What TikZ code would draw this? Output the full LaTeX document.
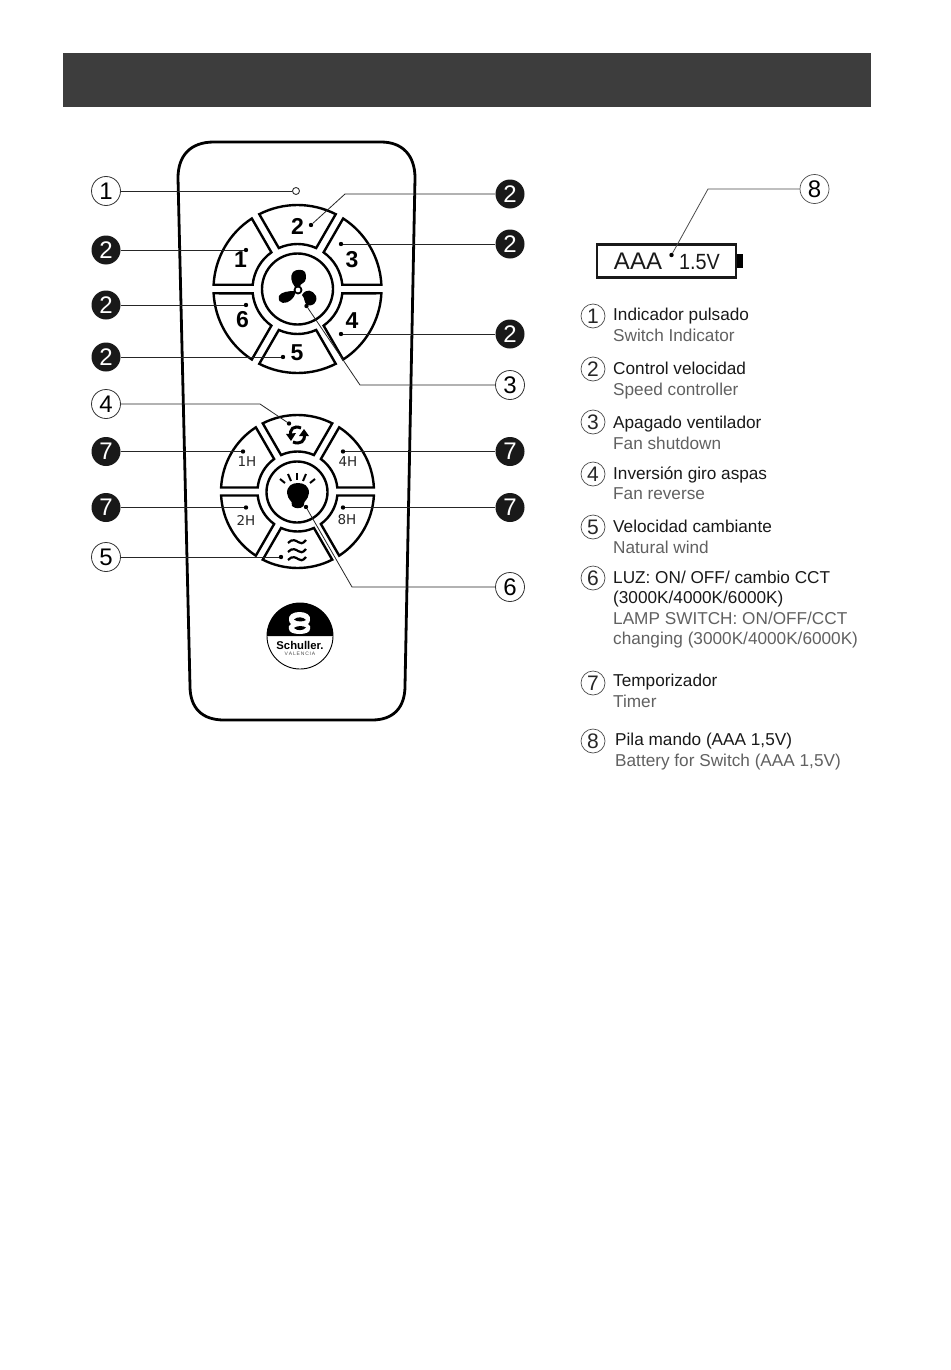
\documentclass[tikz,border=0pt]{standalone}
\usepackage{fontspec}
\setmainfont{Liberation Sans}
\newfontfamily\hfont{DejaVu Sans}
\tikzset{
 x=1pt,y=-1pt,
 seg/.style={draw=black,line width=2.4pt,line join=miter,fill=white},
 wire/.style={draw=black!85,line width=0.8pt},
 dotn/.style={circle,fill=black,inner sep=0pt,minimum size=4.4pt},
 callw/.style={circle,draw=black!80,line width=0.8pt,fill=white,inner sep=0pt,minimum size=29pt,font=\fontsize{24}{24}\selectfont},
 callb/.style={circle,fill=black!90,text=white,inner sep=0pt,minimum size=29pt,font=\fontsize{24}{24}\selectfont},
 legc/.style={circle,draw=black!70,line width=0.7pt,inner sep=0pt,minimum size=24pt,font=\fontsize{21}{21}\selectfont,text=black!85},
 lega/.style={anchor=base west,inner sep=0pt,text=black!90,font=\fontsize{17.2}{18}\selectfont},
 legb/.style={anchor=base west,inner sep=0pt,text=black!62,font=\fontsize{17.2}{18}\selectfont},
 segnum/.style={inner sep=0pt,font=\bfseries\fontsize{23}{23}\selectfont},
 hnum/.style={inner sep=0pt,text=black!85,font=\hfont\fontsize{13.5}{14}\selectfont},
 icon/.style={line width=3pt,line cap=butt,draw=black},
}
\newcommand{\ringsegs}[5]{%
 \foreach \th in {90,30,-30,-90,-150,150}{%
  \pgfmathsetmacro{\aone}{\th-30+asin(#5/#3)}%
  \pgfmathsetmacro{\atwo}{\th+30-asin(#5/#3)}%
  \pgfmathsetmacro{\bone}{\th-30+asin(#5/#4)}%
  \pgfmathsetmacro{\btwo}{\th+30-asin(#5/#4)}%
  \path[seg,shift={(#1,#2)}] (\aone:#3) arc[start angle=\aone,end angle=\atwo,radius=#3] -- (\btwo:#4) arc[start angle=\btwo,end angle=\bone,radius=#4] -- cycle;
 }}
\begin{document}
\begin{tikzpicture}
\useasboundingbox (0,0) rectangle (950,1370);
\fill[white] (0,0) rectangle (950,1370);
% header
\fill[black!76] (63,53) rectangle (871,107);
% remote body
\draw[line width=2.8pt,line join=round,fill=white] (214,142) -- (381,142) .. controls (403,142) and (415,156) .. (415,178) -- (405,686) .. controls (405,708) and (393,720) .. (372,720) -- (224,720) .. controls (202,720) and (190,708) .. (190,686) -- (178,178) .. controls (178,156) and (190,142) .. (214,142) -- cycle;
% led
\node[circle,draw=black!80,line width=0.9pt,inner sep=0pt,minimum size=7pt] (led) at (296,191) {};
% upper ring
\ringsegs{297.5}{289}{84}{45}{4.3}
\node[circle,draw=black,line width=2.4pt,inner sep=0pt,minimum size=71pt] (fanbtn) at (297.5,289) {};
\fill[black] (295,287) .. controls (291,282) and (290,276) .. (293,272) .. controls (296,269) and (303,269) .. (305,272) .. controls (307,276) and (306,282) .. (303,283) .. controls (301,284) and (300,285) .. (300,287) -- cycle;
\fill[black] (302,295) .. controls (306,288) and (313,290) .. (316,296) .. controls (318,303) and (312,307) .. (307,305) .. controls (304,303) and (305,298) .. (302,295) -- cycle;
\fill[black] (279,296) .. controls (281,292) and (288,291) .. (295,291) .. controls (296,295) and (293,298) .. (291,300) .. controls (287,304) and (277,305) .. (279,296) -- cycle;
\node[circle,draw=black,fill=white,line width=1.8pt,inner sep=0pt,minimum size=7pt] (hub) at (298,290) {};
\node[segnum] (s2) at (297.5,226.5) {2};
\node[segnum] (s3) at (352,259.5) {3};
\node[segnum] (s4) at (352,321) {4};
\node[segnum] (s5) at (297,353) {5};
\node[segnum] (s6) at (242.5,320) {6};
\node[segnum] (s1) at (240.5,260) {1};
% lower ring
\ringsegs{297.5}{491.5}{76.5}{40}{4}
\node[circle,draw=black,line width=2.4pt,inner sep=0pt,minimum size=61pt] (lampbtn) at (297,492) {};
\node[hnum] (h1) at (247,462) {1H};
\node[hnum] (h4) at (348,462) {4H};
\node[hnum] (h2) at (246,520) {2H};
\node[hnum] (h8) at (347,520) {8H};
% bulb
\fill[black] (292,506) -- (291.5,502) .. controls (289,499) and (287,496) .. (287,493) .. controls (287,486) and (292,483) .. (298,483) .. controls (304,483) and (309,486) .. (309,493) .. controls (309,496) and (307,499) .. (304.5,502) -- (303.5,506) .. controls (301,509) and (295,509) .. (292,506) -- cycle;
\foreach \ax/\ay/\bx/\by in {280/479/285/483,288/474/291/481,297/473/297/480,306/474/303/481,315/479/310/483}
 \draw[black,line width=2pt] (\ax,\ay) -- (\bx,\by);
% reverse icon
\draw[icon] (301,428) .. controls (294,425) and (289,429) .. (291,436);
\fill[black] (286,434) -- (296,433) -- (291,441) -- cycle;
\draw[icon] (293,442) .. controls (300,445) and (306,441) .. (304,434);
\fill[black] (299,436) -- (309,436) -- (304,429) -- cycle;
% waves
\foreach \yy in {542,551,559}
 \draw[black,line width=2.2pt] (288,\yy+1) .. controls (292,\yy-4) and (297,\yy-1) .. (298,\yy) .. controls (300,\yy+2) and (303,\yy+2) .. (306,\yy-2);
% logo
\draw[black,line width=0.9pt,fill=white] (300,636) circle[radius=33];
\fill[black] (267,636) arc[start angle=180,end angle=360,radius=33] -- cycle;
\fill[white] (289,620) .. controls (288,615) and (293,612) .. (299.5,612) .. controls (306,612) and (311,615) .. (310,620) .. controls (310,622) and (309,623) .. (308,624) .. controls (310,625) and (311,627) .. (310,629) .. controls (310,632) and (306,634) .. (299.5,634) .. controls (293,634) and (289,632) .. (289,629) .. controls (288,627) and (289,625) .. (291,624) .. controls (290,623) and (289,622) .. (289,620) -- cycle;
\fill[black] (294,619.5) .. controls (297,616.5) and (303,616.5) .. (306,620) .. controls (303,622) and (297,622) .. (294,619.5) -- cycle;
\fill[black] (294,628) .. controls (297,625.5) and (303,625.5) .. (306,627.5) .. controls (303,631) and (297,631) .. (294,628) -- cycle;
\node[inner sep=0pt,font=\bfseries\fontsize{11.3}{12}\selectfont] (brand) at (300,645) {Schuller.};
\node[inner sep=0pt,text=black!70,font=\fontsize{5}{5}\selectfont] (city) at (300,654) {V\,A\,L\,E\,N\,C\,I\,A};
% dots
\node[dotn] (d2t) at (311,225) {};
\node[dotn] (d1) at (246,250) {};
\node[dotn] (d3) at (341,244) {};
\node[dotn] (d6) at (246,305) {};
\node[dotn] (d4) at (341,334) {};
\node[dotn] (d5) at (283,357) {};
\node[dotn] (dfan) at (306.5,306) {};
\node[dotn] (drev) at (289,423.5) {};
\node[dotn] (dh1) at (243,451.5) {};
\node[dotn] (dh4) at (343,451.5) {};
\node[dotn] (dh2) at (246,507.5) {};
\node[dotn] (dh8) at (343,507.5) {};
\node[dotn] (dw) at (281,557) {};
\node[dotn] (dl) at (306,507) {};
% callouts
\node[callw] (c1) at (106,191) {1};
\node[callb] (c2a) at (510,194) {2};
\node[callb] (c2b) at (106,250) {2};
\node[callb] (c2c) at (510,244) {2};
\node[callb] (c2d) at (106,305) {2};
\node[callb] (c2e) at (510,334) {2};
\node[callb] (c2f) at (106,357) {2};
\node[callw] (c3) at (510,385) {3};
\node[callw] (c4) at (106,404) {4};
\node[callb] (c7a) at (106,451.5) {7};
\node[callb] (c7b) at (510,451.5) {7};
\node[callb] (c7c) at (106,507.5) {7};
\node[callb] (c7d) at (510,507.5) {7};
\node[callw] (c5) at (106,557) {5};
\node[callw] (c6) at (510,587) {6};
% bends
\coordinate (b2) at (345,194);
\coordinate (b3) at (360,385);
\coordinate (b4) at (260,404);
\coordinate (b6) at (352,587);
% wires
\draw[wire] (c1) -- (led);
\draw[wire] (c2a) -- (b2) -- (d2t);
\draw[wire] (c2b) -- (d1);
\draw[wire] (c2c) -- (d3);
\draw[wire] (c2d) -- (d6);
\draw[wire] (c2e) -- (d4);
\draw[wire] (c2f) -- (d5);
\draw[wire] (c3) -- (b3) -- (dfan);
\draw[wire] (c4) -- (b4) -- (drev);
\draw[wire] (c7a) -- (dh1);
\draw[wire] (c7b) -- (dh4);
\draw[wire] (c7c) -- (dh2);
\draw[wire] (c7d) -- (dh8);
\draw[wire] (c5) -- (dw);
\draw[wire] (c6) -- (b6) -- (dl);
% battery
\node[draw=black!90,line width=2.2pt,minimum width=139pt,minimum height=33pt,inner sep=0pt] (batt) at (666.5,261) {};
\fill[black] (737,254) rectangle (743,268);
\node[inner sep=0pt,text=black!90,font=\fontsize{24}{24}\selectfont] (aaa) at (638,261.5) {AAA};
\node[inner sep=0pt,xscale=0.9,text=black!90,font=\fontsize{22}{22}\selectfont] (v15) at (699.5,262) {1.5V};
\node[dotn] (dbat) at (671.5,255) {};
\node[circle,draw=black!70,line width=0.7pt,fill=white,inner sep=0pt,minimum size=29pt,font=\fontsize{24}{24}\selectfont] (c8) at (814.5,189) {8};
\coordinate (b8) at (708,189);
\draw[wire,black!70] (c8) -- (b8) -- (dbat);
% legend
\node[legc] (l1) at (593,316) {1};
\node[lega] (t1a) at (613,320.5) {Indicador pulsado};
\node[legb] (t1b) at (613,341.5) {Switch Indicator};
\node[legc] (l2) at (593,369) {2};
\node[lega] (t2a) at (613,374.5) {Control velocidad};
\node[legb] (t2b) at (613,395.5) {Speed controller};
\node[legc] (l3) at (593,422) {3};
\node[lega] (t3a) at (613,428.5) {Apagado ventilador};
\node[legb] (t3b) at (613,449.5) {Fan shutdown};
\node[legc] (l4) at (593,474) {4};
\node[lega] (t4a) at (613,479) {Inversión giro aspas};
\node[legb] (t4b) at (613,499.5) {Fan reverse};
\node[legc] (l5) at (593,527) {5};
\node[lega] (t5a) at (613,532.5) {Velocidad cambiante};
\node[legb] (t5b) at (613,553.5) {Natural wind};
\node[legc] (l6) at (593,578) {6};
\node[lega] (t6a) at (613,583) {LUZ: ON/ OFF/ cambio CCT};
\node[lega] (t6b) at (613,603.5) {(3000K/4000K/6000K)};
\node[legb] (t6c) at (613,624) {LAMP SWITCH: ON/OFF/CCT};
\node[legb] (t6d) at (613,644.5) {changing (3000K/4000K/6000K)};
\node[legc] (l7) at (593,683) {7};
\node[lega] (t7a) at (613,686.5) {Temporizador};
\node[legb] (t7b) at (613,707.5) {Timer};
\node[legc] (l8) at (593,741) {8};
\node[lega] (t8a) at (615,745.5) {Pila mando (AAA 1,5V)};
\node[legb] (t8b) at (615,766.5) {Battery for Switch (AAA 1,5V)};
\end{tikzpicture}
\end{document}
